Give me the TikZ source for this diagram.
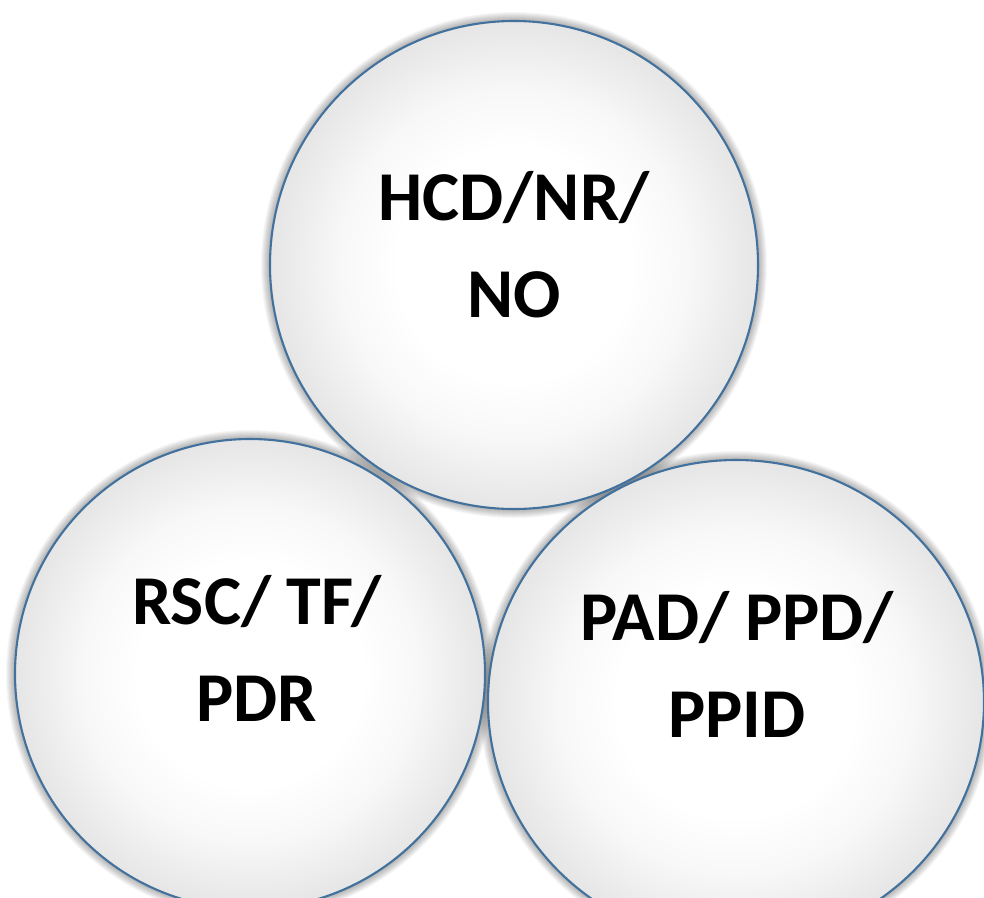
\documentclass[tikz,border=0pt]{standalone}
\usepackage{fontspec}
\setmainfont{Carlito}
\usetikzlibrary{shapes.geometric}
\definecolor{rimblue}{HTML}{41719C}
% soft white-to-grey fill of each disc (rim sits at 25bp)
\pgfdeclareradialshading{discshade}{\pgfpointorigin}{%
  color(0bp)=(white); color(12bp)=(white); color(18bp)=(white!97!black);
  color(25bp)=(white!90!black); color(50bp)=(white!90!black)}
\tikzset{
  disc/.style={draw=rimblue, line width=2.1pt, shading=discshade, inner sep=0pt},
  label/.style={font=\fontsize{70}{97}\selectfont\bfseries, align=center, text=black, inner sep=0pt}
}
\begin{document}
\begin{tikzpicture}[x=1pt,y=-1pt]
  \useasboundingbox (0,0) rectangle (984,897);
  \fill[white] (0,0) rectangle (984,897);
  \clip (0,0) rectangle (984,897);
  % blurred shadows round the discs
  \foreach \cx/\cy/\rx/\ry in {514/265/244/244, 250/674/235/235, 736/702/248/242}{
    \foreach \i in {9,...,0}{
      \fill[black, fill opacity=0.035] (\cx,\cy) ellipse ({\rx+\i} and {\ry+\i});
    }
  }
  % the three discs
  \node[disc, circle, minimum size=488pt] (hcd) at (514,265) {};
  \node[disc, circle, minimum size=470pt] (rsc) at (250,674) {};
  \node[disc, ellipse, minimum width=496pt, minimum height=484pt] (pad) at (736,702) {};
  % labels
  \node[label] (hcdtext) at (514,245) {HCD/NR/\\NO};
  \node[label] (rsctext) at (257,648) {RSC/ TF/\\PDR};
  \node[label] (padtext) at (737,664) {PAD/ PPD/\\PPID};
\end{tikzpicture}
\end{document}
